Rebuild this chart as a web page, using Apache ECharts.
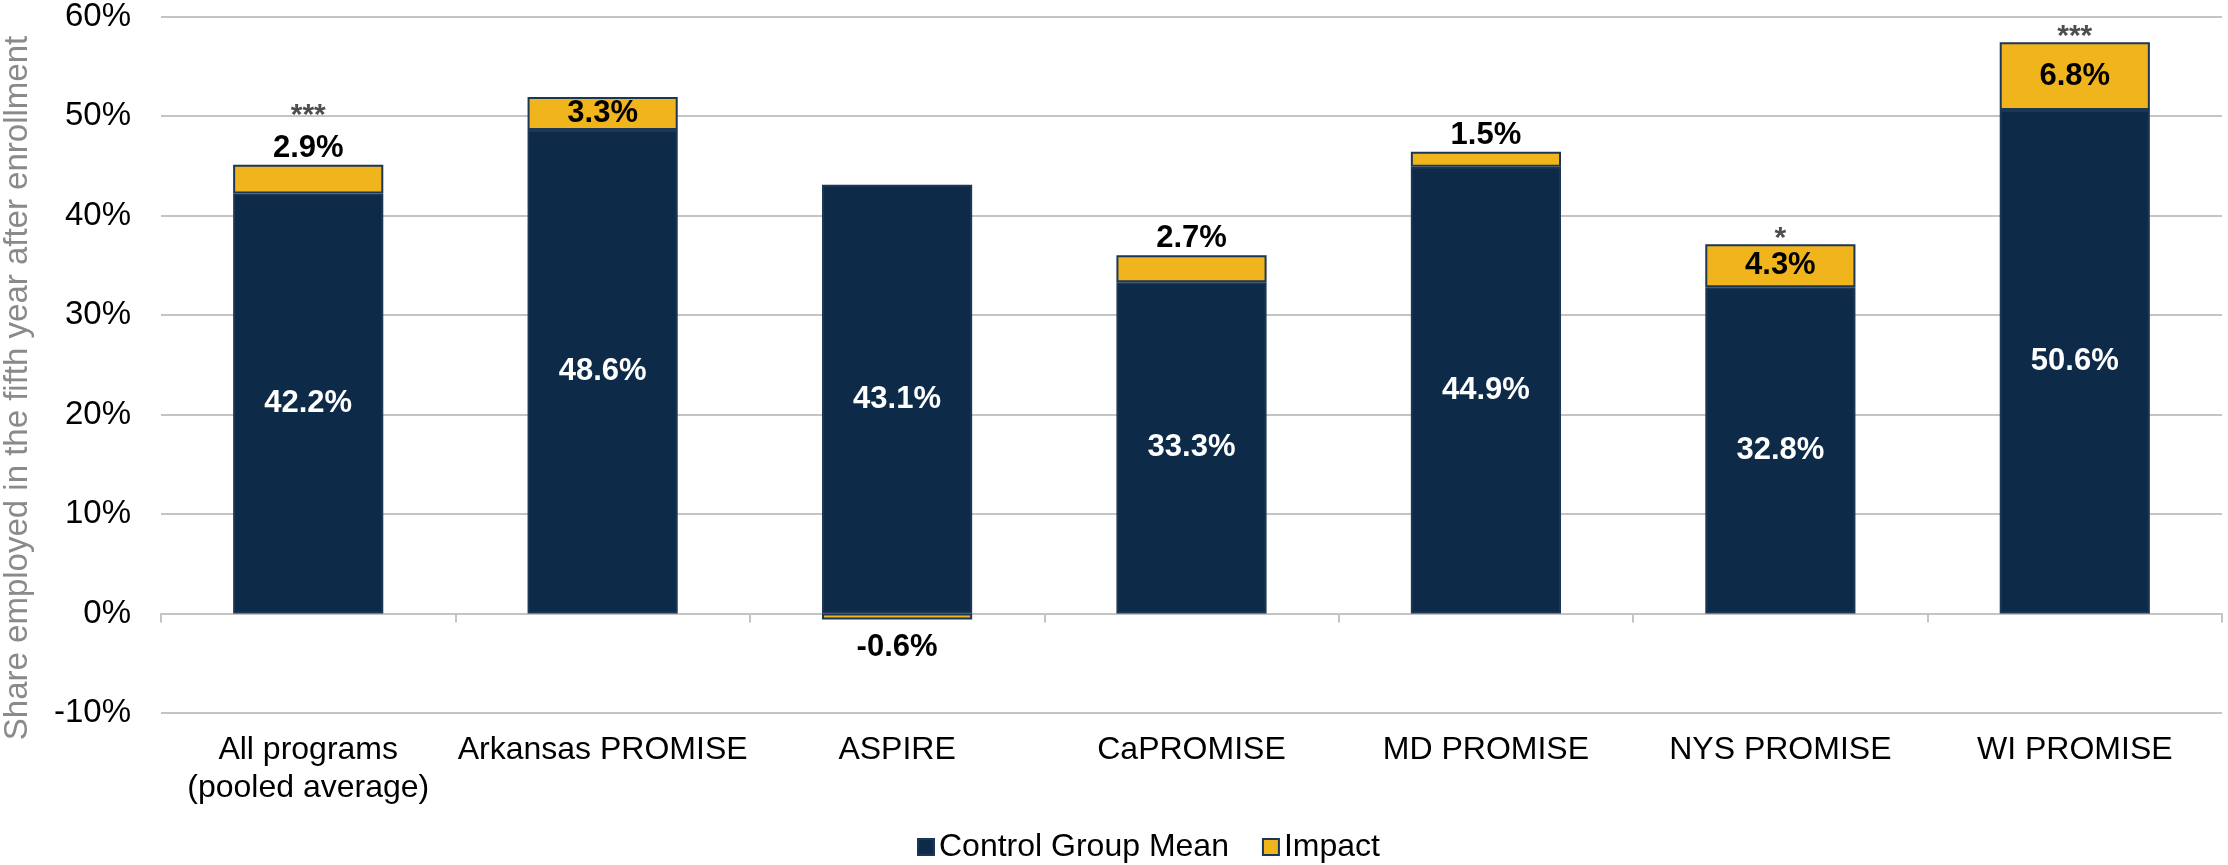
<!DOCTYPE html>
<html>
<head>
<meta charset="utf-8">
<script src="https://cdn.jsdelivr.net/npm/echarts@6/dist/echarts.min.js"></script>
<style>
html,body{margin:0;padding:0;background:#fff;}
#chart{width:2228px;height:865px;}
</style>
</head>
<body>
<div id="chart"></div>
<script>
const categories = ['All programs\n(pooled average)', 'Arkansas PROMISE', 'ASPIRE', 'CaPROMISE', 'MD PROMISE', 'NYS PROMISE', 'WI PROMISE'];
const controlMean = [42.2, 48.6, 43.1, 33.3, 44.9, 32.8, 50.6];
const impact = [2.9, 3.3, -0.6, 2.7, 1.5, 4.3, 6.8];
const significance = ['***', '', '', '', '', '*', '***'];
const yMin = -10, yMax = 60, yStep = 10;
const yTitle = 'Share employed in the fifth year after enrollment';

const FONT = '"Liberation Sans", Arial, sans-serif';
const NAVY = '#0d2a48';
const GOLD = '#f0b41c';
const BORDER = '#1c3656';

function impactPos(v) {
  if (v < 0) return 'bottom';
  if (v >= 3) return 'inside';
  return 'top';
}

const impactData = impact.map(v => ({
  value: v,
  label: {
    position: impactPos(v),
    distance: v < 0 ? 12 : 1
  }
}));

const starData = significance.map((s, i) => {
  const top = controlMean[i] + Math.max(impact[i], 0);
  const labelOnTop = impactPos(impact[i]) === 'top';
  return {
    value: [i, top],
    label: { show: s !== '', formatter: s, distance: labelOnTop ? 34 : -10 }
  };
});

const chart = echarts.init(document.getElementById('chart'), null, { renderer: 'canvas' });
chart.setOption({
  animation: false,
  backgroundColor: '#ffffff',
  textStyle: { fontFamily: FONT },
  grid: { left: 161, right: 6, top: 16, bottom: 152, containLabel: false },
  legend: {
    data: ['Control Group Mean', 'Impact'],
    left: 912, top: 826,
    itemWidth: 16, itemHeight: 16, itemGap: 33,
    icon: 'rect',
    textStyle: { fontFamily: FONT, fontSize: 32, color: '#000' }
  },
  xAxis: [
    {
      type: 'category', data: categories, position: 'bottom',
      axisLine: { show: false, onZero: false },
      axisTick: { show: false },
      axisLabel: { fontFamily: FONT, fontSize: 32, color: '#000', margin: 18, lineHeight: 38, interval: 0 }
    },
    {
      type: 'category', data: categories, position: 'bottom',
      axisLine: { show: true, onZero: true, lineStyle: { color: '#c4c4c4', width: 2 } },
      axisTick: { show: true, length: 9, lineStyle: { color: '#c4c4c4', width: 2 } },
      axisLabel: { show: false }
    }
  ],
  yAxis: {
    type: 'value', min: yMin, max: yMax, interval: yStep,
    axisLine: { show: false }, axisTick: { show: false },
    axisLabel: { formatter: '{value}%', fontFamily: FONT, fontSize: 33, color: '#000', margin: 30 },
    splitLine: { lineStyle: { color: '#c4c4c4', width: 2 } }
  },
  graphic: [{
    type: 'text', x: 18, y: 388, rotation: Math.PI / 2,
    style: { text: yTitle, fontFamily: FONT, fontSize: 33, fill: '#8a8a8a', align: 'center', verticalAlign: 'middle' }
  }],
  series: [
    {
      name: 'Control Group Mean', type: 'bar', stack: 'total', barWidth: '51%',
      data: controlMean,
      itemStyle: { color: NAVY, borderColor: BORDER, borderWidth: 2 },
      label: { show: true, position: 'inside', formatter: p => p.value.toFixed(1) + '%',
               fontFamily: FONT, fontSize: 31, fontWeight: 'bold', color: '#fff' }
    },
    {
      name: 'Impact', type: 'bar', stack: 'total', barWidth: '51%',
      data: impactData,
      itemStyle: { color: GOLD, borderColor: BORDER, borderWidth: 2 },
      label: { show: true, formatter: p => p.value.toFixed(1) + '%',
               fontFamily: FONT, fontSize: 31, fontWeight: 'bold', color: '#000' }
    },
    {
      name: 'sig', type: 'scatter', data: starData, symbolSize: 1,
      itemStyle: { color: 'rgba(0,0,0,0)' }, silent: true,
      label: { show: true, position: 'top', fontFamily: FONT, fontSize: 30, fontWeight: 'bold', color: '#222' }
    }
  ]
});
</script>
</body>
</html>
